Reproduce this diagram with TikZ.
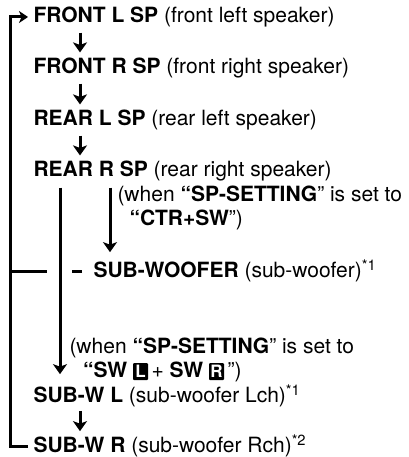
\documentclass[tikz,border=0pt]{standalone}
\usepackage{fontspec}
\setmainfont{TeX Gyre Heros}
\usetikzlibrary{arrows.meta}

\begin{document}
\begin{tikzpicture}[x=1pt,y=-1pt,line width=3pt,
  txt/.style={anchor=west,inner sep=0pt,font=\fontsize{21}{23}\selectfont},
  arr/.style={-{Stealth[length=10pt,width=14pt,inset=2.5pt]}},
  loop/.style={-{Stealth[length=9pt,width=12pt,inset=2.5pt]}}]
\providecommand{\keybox}[1]{\tikz[baseline=-6pt]\node[fill=black,text=white,inner sep=0pt,minimum width=15pt,minimum height=17pt,rounded corners=1pt,font=\bfseries\fontsize{17}{18}\selectfont](k){#1};}
\useasboundingbox (0,0) rectangle (408,457);
\node[txt] (fl) at (32,17) {\textbf{FRONT L SP} (front left speaker)};
\node[txt] (fr) at (32,68) {\textbf{FRONT R SP} (front right speaker)};
\node[txt] (rl) at (32,120) {\textbf{REAR L SP} (rear left speaker)};
\node[txt] (rr) at (32,171) {\textbf{REAR R SP} (rear right speaker)};
\node[txt] (note1a) at (116,196) {(when \textbf{“SP-SETTING}” is set to};
\node[txt] (note1b) at (128,220) {\textbf{“CTR+SW}”)};
\node[txt] (sw) at (92,271) {\textbf{SUB-WOOFER} (sub-woofer)\textsuperscript{*1}};
\node[txt] (note2a) at (68,348) {(when \textbf{“SP-SETTING}” is set to};
\node[txt] (note2b) at (83,372) {\textbf{“SW} \keybox{L}\,+ \textbf{SW} \keybox{R}\,”)};
\node[txt] (swl) at (32,396) {\textbf{SUB-W L} (sub-woofer Lch)\textsuperscript{*1}};
\node[txt] (swr) at (32,446) {\textbf{SUB-W R} (sub-woofer Rch)\textsuperscript{*2}};
\coordinate (ax) at (80,0);
\coordinate (lp) at (10,0);
\coordinate (ln) at (60,0);
\coordinate (an) at (110,0);
\draw[arr,shorten <=4pt,shorten >=4pt] (fl.south -| ax) -- (fr.north -| ax);
\draw[arr,shorten <=4pt,shorten >=4pt] (fr.south -| ax) -- (rl.north -| ax);
\draw[arr,shorten <=4pt,shorten >=4pt] (rl.south -| ax) -- (rr.north -| ax);
\draw[arr,shorten <=5pt,shorten >=9pt] (rr.south -| ln) -- (swl.north -| ln);
\draw[arr,shorten <=5pt,shorten >=6pt] (rr.south -| an) -- (sw.north -| an);
\draw[arr,shorten <=2pt,shorten >=2pt] (swl.south -| ax) -- (swr.north -| ax);
\draw[loop] ([xshift=-4pt]swr.west) -- (swr.west -| lp) -- (fl.west -| lp) -- ([xshift=-4pt]fl.west);
\draw (sw.west -| lp) -- ++(37,0);
\draw ([xshift=-10pt]sw.west) -- ++(-10,0);
\end{tikzpicture}
\end{document}
